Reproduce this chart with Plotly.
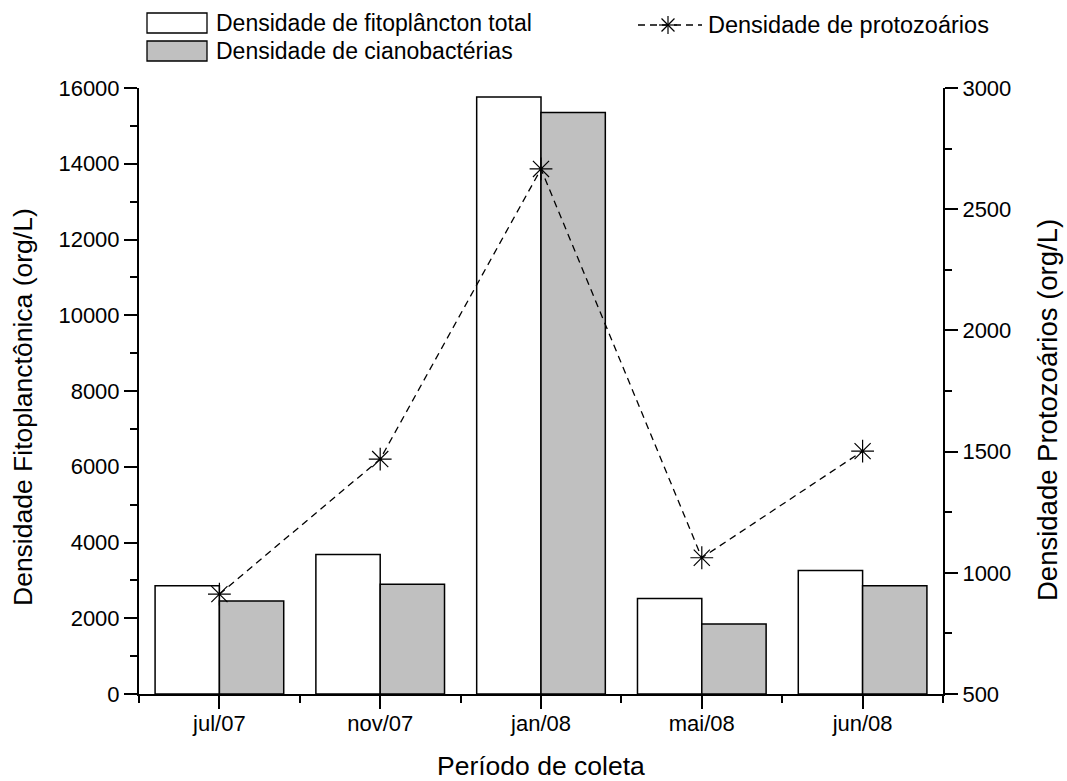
import plotly.graph_objects as go

# Sampling periods and densities
periodos = ["jul/07", "nov/07", "jan/08", "mai/08", "jun/08"]
fitoplancton_total = [2860, 3680, 15760, 2520, 3260]
cianobacterias = [2455, 2900, 15355, 1850, 2860]
protozoarios = [912, 1469, 2666, 1062, 1502]

FONT = "Liberation Sans, Arial, sans-serif"
W, H = 1067, 781
L, R, T, B = 139, 124, 88, 87
PW, PH = W - L - R, H - T - B

xs = list(range(len(periodos)))

fig = go.Figure()
fig.add_trace(go.Bar(
    x=xs, y=fitoplancton_total, name="Densidade de fitoplâncton total",
    marker=dict(color="white", line=dict(color="black", width=1.5)),
))
fig.add_trace(go.Bar(
    x=xs, y=cianobacterias, name="Densidade de cianobactérias",
    marker=dict(color="#c0c0c0", line=dict(color="black", width=1.5)),
))
fig.add_trace(go.Scatter(
    x=xs, y=protozoarios, name="Densidade de protozoários", yaxis="y2",
    mode="lines+markers",
    line=dict(color="black", width=1.3, dash="7px,5px"),
    marker=dict(symbol="asterisk-open", size=19, color="black",
                line=dict(color="black", width=1.2)),
))


def px(x):
    return (x - L) / PW


def py(y):
    return (H - B - y) / PH


shapes = []
annotations = []

# Legend: bar swatches
for (y0, y1, fill, label) in [
    (13, 33, "white", "Densidade de fitoplâncton total"),
    (41, 61, "#c0c0c0", "Densidade de cianobactérias"),
]:
    shapes.append(dict(type="rect", xref="paper", yref="paper",
                       x0=px(147), x1=px(207), y0=py(y0), y1=py(y1),
                       fillcolor=fill, line=dict(color="black", width=1.3)))
    annotations.append(dict(xref="paper", yref="paper", x=px(214), y=py((y0 + y1) / 2),
                            text=label, showarrow=False, xanchor="left", yanchor="middle",
                            font=dict(family=FONT, size=23, color="black")))

# Legend: dashed line with asterisk
ly = 25
shapes.append(dict(type="line", xref="paper", yref="paper",
                   x0=px(638), x1=px(702), y0=py(ly), y1=py(ly),
                   line=dict(color="black", width=1.3, dash="7px,5px")))
cx, r = 668, 9
for dx, dy in [(r, 0), (0, r), (r * 0.72, r * 0.72), (r * 0.72, -r * 0.72)]:
    shapes.append(dict(type="line", xref="paper", yref="paper",
                       x0=px(cx - dx), x1=px(cx + dx), y0=py(ly - dy), y1=py(ly + dy),
                       line=dict(color="black", width=1.2)))
annotations.append(dict(xref="paper", yref="paper", x=px(706), y=py(ly),
                        text="Densidade de protozoários", showarrow=False,
                        xanchor="left", yanchor="middle",
                        font=dict(family=FONT, size=23.5, color="black")))

tickfont = dict(family=FONT, size=22, color="black")
titlefont = dict(family=FONT, size=26.5, color="black")

# Axis titles
annotations += [
    dict(xref="paper", yref="paper", x=px(541), y=py(766), text="Período de coleta",
         showarrow=False, xanchor="center", yanchor="middle", font=titlefont),
    dict(xref="paper", yref="paper", x=px(23), y=py(407),
         text="Densidade Fitoplanctônica (org/L)", textangle=-90,
         showarrow=False, xanchor="center", yanchor="middle", font=titlefont),
    dict(xref="paper", yref="paper", x=px(1047), y=py(410),
         text="Densidade Protozoários (org/L)", textangle=-90,
         showarrow=False, xanchor="center", yanchor="middle",
         font=dict(family=FONT, size=27.5, color="black")),
]

fig.update_layout(
    width=W, height=H,
    margin=dict(l=L, r=R, t=T, b=B, autoexpand=False),
    paper_bgcolor="white", plot_bgcolor="white",
    showlegend=False,
    barmode="group", bargap=0.2, bargroupgap=0,
    shapes=shapes, annotations=annotations,
    xaxis=dict(
        range=[-0.5, 4.5], tickmode="array", tickvals=xs, ticktext=periodos,
        ticks="outside", ticklen=13, tickwidth=2, tickcolor="black",
        ticklabelstandoff=-4,
        minor=dict(tickmode="array", tickvals=[i - 0.5 for i in range(len(periodos) + 1)],
                   ticks="outside", ticklen=7, tickwidth=2, tickcolor="black"),
        showline=True, linecolor="black", linewidth=2, showgrid=False, zeroline=False,
        tickfont=tickfont,
        fixedrange=True,
    ),
    yaxis=dict(
        range=[0, 16000], dtick=2000, tick0=0, tickformat="d",
        ticks="outside", ticklen=13, tickwidth=2, tickcolor="black",
        minor=dict(dtick=1000, ticks="outside", ticklen=7, tickwidth=2, tickcolor="black"),
        showline=True, linecolor="black", linewidth=2, showgrid=False, zeroline=False,
        tickfont=tickfont,
    ),
    yaxis2=dict(
        overlaying="y", side="right", range=[500, 3000], dtick=500, tick0=500,
        tickformat="d",
        ticks="outside", ticklen=13, tickwidth=2, tickcolor="black",
        minor=dict(dtick=250, ticks="outside", ticklen=7, tickwidth=2, tickcolor="black"),
        showline=True, linecolor="black", linewidth=2, showgrid=False, zeroline=False,
        tickfont=tickfont,
    ),
)

fig.write_html("out.html")
